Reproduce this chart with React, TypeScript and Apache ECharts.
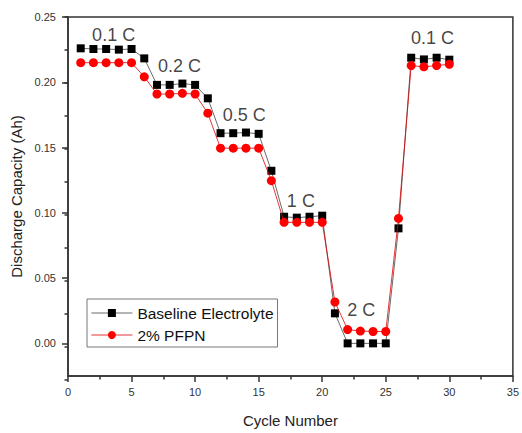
import React, { useEffect, useRef } from "react";
import * as echarts from "echarts";

const cycles = [1, 2, 3, 4, 5, 6, 7, 8, 9, 10, 11, 12, 13, 14, 15, 16, 17, 18, 19, 20, 21, 22, 23, 24, 25, 26, 27, 28, 29, 30];
const baseline = [
  0.226, 0.2255, 0.2255, 0.225, 0.2255, 0.2183, 0.198, 0.198, 0.199, 0.198,
  0.1877, 0.161, 0.161, 0.1615, 0.1605, 0.1322, 0.097, 0.0963, 0.097, 0.0978,
  0.023, 0.0, 0.0, 0.0, 0.0, 0.0881, 0.2188, 0.2175, 0.2188, 0.2173,
];
const pfpn = [
  0.215, 0.215, 0.215, 0.215, 0.215, 0.2042, 0.191, 0.191, 0.1915, 0.191,
  0.1763, 0.1495, 0.1495, 0.1495, 0.1495, 0.1246, 0.0927, 0.0927, 0.0927, 0.0927,
  0.0317, 0.0106, 0.0094, 0.0091, 0.0091, 0.0957, 0.2128, 0.2118, 0.2128, 0.2138,
];
const rateLabels = ["0.1 C", "0.2 C", "0.5 C", "1 C", "2 C", "0.1 C"];
const rateLabelX = [3.59, 8.77, 13.87, 18.32, 23.07, 28.68];
const rateLabelY = [0.2363, 0.2128, 0.1748, 0.1094, 0.0258, 0.234];
const yTicks = [0, 0.05, 0.1, 0.15, 0.2, 0.25];
const seriesNames = ["Baseline Electrolyte", "2% PFPN"];

const FONT = "'Liberation Sans', Arial, sans-serif";

export default function App() {
  const ref = useRef<HTMLDivElement>(null);
  useEffect(() => {
    if (!ref.current) return;
    const chart = echarts.init(ref.current, undefined, { renderer: "svg" });
    const gridPos = { left: 68, right: 5, top: 17, bottom: 53 };
    chart.setOption({
      animation: false,
      backgroundColor: "#ffffff",
      textStyle: { fontFamily: FONT },
      grid: [
        { ...gridPos, show: true, borderColor: "#333", borderWidth: 1.5, containLabel: false },
        { ...gridPos, show: false, containLabel: false },
      ],
      xAxis: [
        {
          type: "value",
          gridIndex: 0,
          min: 0,
          max: 35,
          interval: 5,
          name: "Cycle Number",
          nameLocation: "middle",
          nameGap: 37,
          nameTextStyle: { fontSize: 15, color: "#222", fontFamily: FONT },
          axisLine: { show: true, onZero: false, lineStyle: { color: "#333", width: 1.5 } },
          axisTick: { show: true, length: 6, lineStyle: { color: "#333", width: 1.5 } },
          minorTick: { show: true, splitNumber: 2, length: 3.5, lineStyle: { color: "#333", width: 1.5 } },
          splitLine: { show: false },
          axisLabel: { fontSize: 11, color: "#333", margin: 10, fontFamily: FONT },
        },
        { type: "value", gridIndex: 1, min: 0, max: 35, show: false },
      ],
      yAxis: [
        {
          type: "value",
          gridIndex: 0,
          min: -0.025,
          max: 0.25,
          name: "Discharge Capacity (Ah)",
          nameLocation: "middle",
          nameGap: 38,
          nameTextStyle: { fontSize: 15, color: "#222", fontFamily: FONT },
          axisLine: { show: true, onZero: false, lineStyle: { color: "#333", width: 1.5 } },
          axisTick: { show: true, length: 6, customValues: yTicks, lineStyle: { color: "#333", width: 1.5 } },
          splitLine: { show: false },
          axisLabel: {
            fontSize: 11,
            color: "#333",
            margin: 12,
            fontFamily: FONT,
            customValues: yTicks,
            formatter: (v: number) => v.toFixed(2),
          },
        },
        {
          type: "value",
          gridIndex: 1,
          min: -0.025,
          max: 0.25,
          interval: 0.025,
          axisLine: { show: false, onZero: false },
          axisTick: { show: true, length: 3.5, lineStyle: { color: "#333", width: 1.5 } },
          axisLabel: { show: false },
          splitLine: { show: false },
        },
      ],
      legend: {
        data: seriesNames,
        orient: "vertical",
        left: 87,
        top: 299,
        padding: [6, 4, 4, 4],
        itemWidth: 41,
        itemHeight: 10,
        itemGap: 6,
        borderColor: "#777",
        borderWidth: 1,
        borderRadius: 0,
        lineStyle: { width: 0.8 },
        textStyle: { fontSize: 15.5, color: "#111", fontFamily: FONT },
      },
      series: [
        {
          name: seriesNames[0],
          type: "line",
          xAxisIndex: 0,
          yAxisIndex: 0,
          data: cycles.map((c, i) => [c, baseline[i]]),
          symbol: "rect",
          symbolSize: 8,
          itemStyle: { color: "#000" },
          lineStyle: { color: "#444", width: 0.8 },
          z: 2,
        },
        {
          name: seriesNames[1],
          type: "line",
          xAxisIndex: 0,
          yAxisIndex: 0,
          data: cycles.map((c, i) => [c, pfpn[i]]),
          symbol: "circle",
          symbolSize: 9,
          itemStyle: { color: "#ff0000" },
          lineStyle: { color: "#e00000", width: 0.8 },
          z: 3,
        },
        {
          name: "rates",
          type: "scatter",
          xAxisIndex: 0,
          yAxisIndex: 0,
          symbolSize: 0,
          silent: true,
          data: rateLabels.map((t, i) => ({ name: t, value: [rateLabelX[i], rateLabelY[i]] })),
          label: {
            show: true,
            position: "inside",
            formatter: (p: any) => p.name,
            fontSize: 18,
            color: "#111",
            fontFamily: FONT,
          },
          z: 4,
        },
      ],
    });
    return () => chart.dispose();
  }, []);
  return (
    <div
      ref={ref}
      style={{ position: "fixed", left: 0, top: 0, width: 522, height: 433, background: "#fff" }}
    />
  );
}
